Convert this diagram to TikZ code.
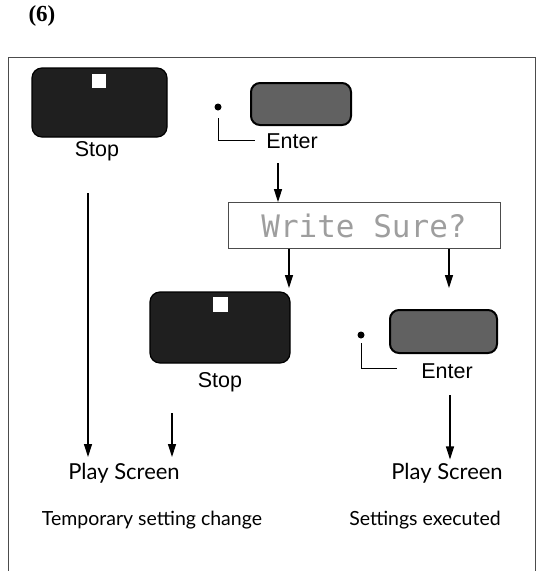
\documentclass[tikz,border=0pt]{standalone}
\usepackage{fontspec}
\setmainfont{Lato}
\newfontfamily\keyfont{Liberation Sans}
\newfontfamily\lcdfont{DejaVu Sans Mono}
\newfontfamily\numfont{Liberation Serif}
\usetikzlibrary{arrows.meta}

\begin{document}
\begin{tikzpicture}[x=1pt,y=-1pt,
  stopkey/.style={fill=black!88,draw=black,line width=1.2pt,rounded corners=10pt,inner sep=0pt},
  enterkey/.style={fill=black!62,draw=black,line width=2pt,rounded corners=9pt,inner sep=0pt},
  keylabel/.style={font=\keyfont\fontsize{21.5}{21.5}\selectfont},
  screenlabel/.style={font=\fontsize{22}{22}\selectfont},
  notelabel/.style={font=\fontsize{19.5}{19.5}\selectfont},
  flow/.style={-{Triangle[length=13pt,width=8pt]},line width=1.2pt}]
\useasboundingbox (0,0) rectangle (537,571);
\node[font=\numfont\bfseries\fontsize{23}{23}\selectfont] (num) at (42,16) {(6)};
\draw[black!70,line width=0.8pt] (8,571) -- (8,57) -- (535,57) -- (535,571);
% first stop key
\node[stopkey,minimum width=135,minimum height=69] (stopA) at (99.5,102.5) {};
\fill[white] (92,74) rectangle (106,88);
\node[keylabel] (stopAl) at (97,151) {Stop};
% first enter key
\node[enterkey,minimum width=100,minimum height=42] (enterA) at (301,104) {};
\fill (218,107) circle (3.5);
\draw[line width=0.8pt] (218,118) -- (218,140) -- (255,140);
\node[keylabel] (enterAl) at (292,141) {Enter};
% display
\node[draw=black!70,line width=0.8pt,minimum width=272,minimum height=46,
  font=\lcdfont\fontsize{31}{31}\selectfont,text=black!38] (sure) at (364,225.5) {Write Sure?};
\coordinate (e1) at (278,163);
\draw[flow] (e1) -- (e1 |- sure.north);
% second stop key
\node[stopkey,minimum width=140,minimum height=71] (stopB) at (220,327.5) {};
\fill[white] (213,297) rectangle (228,312);
\node[keylabel] (stopBl) at (220,382) {Stop};
% second enter key
\node[enterkey,minimum width=107,minimum height=43] (enterB) at (443.5,331.5) {};
\fill (361,335) circle (3.5);
\draw[line width=0.8pt] (361,343) -- (361,368) -- (397,368);
\node[keylabel] (enterBl) at (447,371) {Enter};
\coordinate (s1) at (289,288);
\coordinate (s2) at (449,288);
\draw[flow] (s1 |- sure.south) -- (s1);
\draw[flow] (s2 |- sure.south) -- (s2);
% results
\node[screenlabel] (playA) at (124,473) {Play Screen};
\node[screenlabel] (playB) at (447,473) {Play Screen};
\node[notelabel] (noteA) at (152,520) {Temporary setting change};
\node[notelabel] (noteB) at (425,520) {Settings executed};
\coordinate (l1) at (88,193);
\coordinate (l2) at (88,457);
\coordinate (m1) at (172,413);
\coordinate (r1) at (450,395);
\draw[flow] (l1) -- (l2);
\draw[flow] (m1) -- (m1 |- l2);
\draw[flow] (r1) -- (r1 |- playB.north);
\end{tikzpicture}
\end{document}
